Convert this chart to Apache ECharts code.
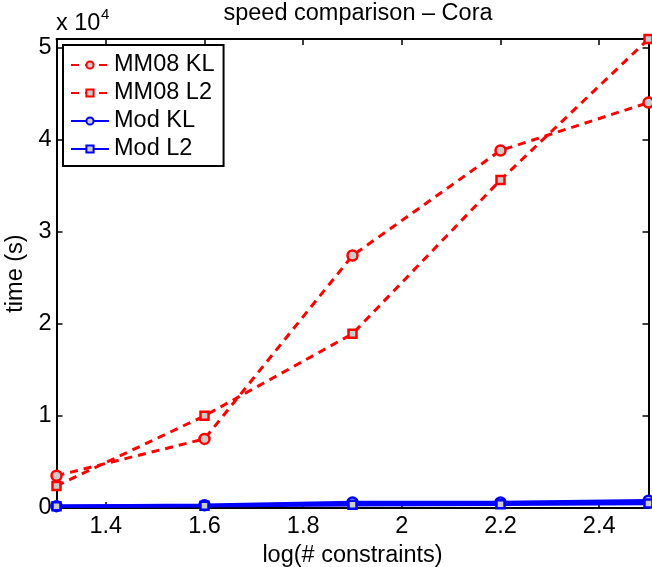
<!DOCTYPE html>
<html>
<head>
<meta charset="utf-8">
<script src="https://cdn.jsdelivr.net/npm/echarts@6/dist/echarts.min.js"></script>
<style>
  html, body { margin: 0; padding: 0; background: #fff; }
  #chart { width: 652px; height: 567px; }
</style>
</head>
<body>
<div id="chart"></div>
<script>
// x = log(# constraints)
const xValues = [1.3, 1.6, 1.9, 2.2, 2.5]
const mm08KL = [3500, 7500, 27400, 38800, 44000]
const mm08L2 = [2400, 10000, 18900, 35600, 50900]
const modKL = [200, 300, 600, 600, 800]
const modL2 = [200, 250, 350, 400, 500]
const xTicks = [1.4, 1.6, 1.8, 2, 2.2, 2.4]

const font = 'Liberation Sans, Arial, Helvetica, sans-serif'
const fs = 23.5
const pairs = ys => xValues.map((x, i) => [x, ys[i]])

const mkSeries = (name, ys, color, dashed, symbol) => ({
  name,
  type: 'line',
  data: pairs(ys),
  symbol,
  symbolSize: symbol === 'circle' ? 10 : 8,
  showSymbol: true,
  lineStyle: { color, width: dashed ? 3 : 3.5, type: dashed ? [8, 6] : 'solid' },
  itemStyle: { color: '#cccccc', borderColor: color, borderWidth: 2.5 },
  z: dashed ? 3 : 4
})

const chart = echarts.init(document.getElementById('chart'))
const baseX = {
  type: 'value', min: 1.3, max: 2.5, interval: 0.1,
  axisLine: { show: true, onZero: false, lineStyle: { color: '#000', width: 2 } },
  axisTick: { show: true, inside: true, length: 6, lineStyle: { color: '#000', width: 1.5 } },
  splitLine: { show: false }
}
const baseY = {
  type: 'value', min: 0, max: 50900, interval: 10000,
  axisLine: { show: true, lineStyle: { color: '#000', width: 2 } },
  axisTick: { show: true, inside: true, length: 6, lineStyle: { color: '#000', width: 1.5 } },
  splitLine: { show: false }
}

chart.setOption({
  animation: false,
  title: {
    text: 'speed comparison \u2013 Cora',
    left: 353, top: -3, textAlign: 'center',
    textStyle: { fontFamily: font, fontSize: fs, fontWeight: 'normal', color: '#000' }
  },
  grid: { left: 56.5, right: 3.5, top: 39, bottom: 59, containLabel: false, outerBoundsMode: 'none' },
  legend: {
    left: 63, top: 45, orient: 'vertical',
    backgroundColor: '#fff', borderColor: '#000', borderWidth: 2, borderRadius: 0,
    padding: [8, 9, 5, 7], itemWidth: 38, itemHeight: 9, itemGap: 4,
    textStyle: { fontFamily: font, fontSize: fs, color: '#000' },
    data: ['MM08 KL', 'MM08 L2', 'Mod KL', 'Mod L2']
  },
  xAxis: [
    Object.assign({}, baseX, {
      position: 'bottom',
      name: 'log(# constraints)', nameLocation: 'middle', nameGap: 30,
      nameTextStyle: { fontFamily: font, fontSize: fs, color: '#000' },
      axisTick: Object.assign({}, baseX.axisTick, { customValues: xTicks }),
      axisLabel: {
        fontFamily: font, fontSize: fs, color: '#000', margin: 7,
        customValues: xTicks,
        formatter: v => String(Math.round(v * 10) / 10)
      }
    }),
    Object.assign({}, baseX, {
      position: 'top',
      axisTick: Object.assign({}, baseX.axisTick, { customValues: xTicks }),
      axisLabel: { show: false }
    })
  ],
  yAxis: [
    Object.assign({}, baseY, {
      position: 'left',
      name: 'time (s)', nameLocation: 'middle', nameGap: 27,
      nameTextStyle: { fontFamily: font, fontSize: fs, color: '#000' },
      axisLabel: {
        fontFamily: font, fontSize: fs, color: '#000', margin: 5,
        showMaxLabel: false,
        formatter: v => (v % 10000 === 0 ? String(v / 10000) : '')
      }
    }),
    Object.assign({}, baseY, {
      position: 'right',
      axisLabel: { show: false }
    })
  ],
  graphic: [
    {
      type: 'text', left: 56, top: 12,
      style: { text: 'x 10', fontFamily: font, fontSize: fs, fill: '#000' }
    },
    {
      type: 'text', left: 101, top: 7,
      style: { text: '4', fontFamily: font, fontSize: 15, fill: '#000' }
    }
  ],
  series: [
    mkSeries('MM08 KL', mm08KL, '#ff0000', true, 'circle'),
    mkSeries('MM08 L2', mm08L2, '#ff0000', true, 'rect'),
    mkSeries('Mod KL', modKL, '#0000ff', false, 'circle'),
    mkSeries('Mod L2', modL2, '#0000ff', false, 'rect')
  ]
})
</script>
</body>
</html>
